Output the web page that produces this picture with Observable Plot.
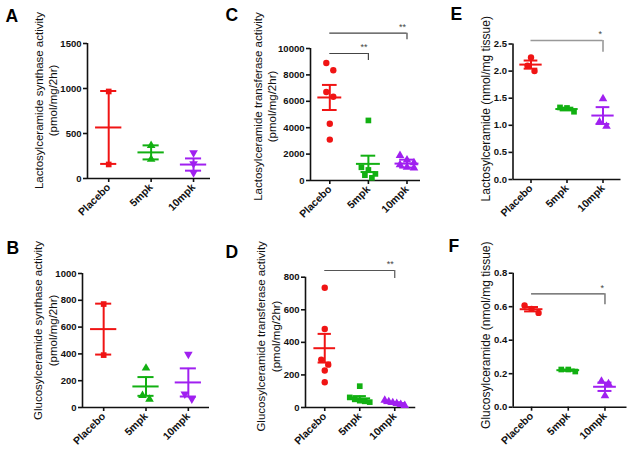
<!DOCTYPE html>
<html><head><meta charset="utf-8">
<script src="https://cdn.jsdelivr.net/npm/d3@7"></script>
<script src="https://cdn.jsdelivr.net/npm/@observablehq/plot@0.6"></script>
<style>
body{margin:0;background:#fff;}
#chart{position:relative;width:629px;height:453px;overflow:hidden;background:#fff;}
#chart > svg{position:absolute;}
</style></head><body><div id="chart"></div>
<script>
// ---------- data ----------
const groups = ["Placebo", "5mpk", "10mpk"];
const groupColors = ["#f01414", "#12b012", "#a020f0"];

// Panel A
const aTitle = "Lactosylceramide synthase activity\n(pmol/mg/2hr)";
const aTicks = [0, 500, 1000, 1500];
const aPlacebo = [967, 156];
const a5mpk = [367, 213];
const a10mpk = [285, 163, 65];
const aMean = [567, 290, 155];
const aSem = [405, 78, 68];

// Panel B
const bTitle = "Glucosylceramide synthase activity\n(pmol/mg/2hr)";
const bTicks = [0, 200, 400, 600, 800, 1000];
const bPlacebo = [772, 391];
const b5mpk = [294, 90, 62];
const b10mpk = [398, 100, 63];
const bMean = [585, 157, 187];
const bSem = [190, 70, 105];

// Panel C
const cTitle = "Lactosylceramide transferase activity\n(pmol/mg/2hr)";
const cTicks = [0, 2000, 4000, 6000, 8000, 10000];
const cPlacebo = [8900, 8350, 6700, 6350, 4300, 3100];
const c5mpk = [4550, 1000, 800, 500, 400, 200];
const c10mpk = [1900, 1550, 1350, 1200, 1000, 950];
const cMean = [6290, 1260, 1280];
const cSem = [950, 620, 300];
const cBrackets = [
  {from: "Placebo", to: "5mpk", level: 9620, drop: 9090, label: "**"},
  {from: "Placebo", to: "10mpk", level: 11160, drop: 10660, label: "**"}
];

// Panel D
const dTitle = "Glucosylceramide transferase activity\n(pmol/mg/2hr)";
const dTicks = [0, 200, 400, 600, 800];
const dPlacebo = [735, 482, 294, 263, 227, 155];
const d5mpk = [131, 62, 50, 42, 38, 33];
const d10mpk = [45, 36, 30, 24, 18, 12];
const dMean = [364, 56, 27];
const dSem = [88, 14, 5];
const dBrackets = [{from: "Placebo", to: "10mpk", level: 841, drop: 792, label: "**"}];

// Panel E
const eTitle = "Lactosylceramide (nmol/mg tissue)";
const eTicks = [0, 0.5, 1.0, 1.5, 2.0, 2.5];
const ePlacebo = [2.25, 2.10, 2.00];
const e5mpk = [1.33, 1.25, 1.32];
const e10mpk = [1.49, 0.98, 1.06];
const eMean = [2.12, 1.30, 1.18];
const eSem = [0.075, 0.025, 0.155];
const eBrackets = [{from: "Placebo", to: "10mpk", level: 2.565, drop: 2.35, label: "*"}];

// Panel F
const fTitle = "Glucosylceramide (nmol/mg tissue)";
const fTicks = [0, 0.2, 0.4, 0.6, 0.8];
const fPlacebo = [0.607, 0.563, 0.587];
const f5mpk = [0.225, 0.213, 0.225];
const f10mpk = [0.155, 0.140, 0.068];
const fMean = [0.585, 0.221, 0.122];
const fSem = [0.013, 0.004, 0.025];
const fBrackets = [{from: "Placebo", to: "10mpk", level: 0.677, drop: 0.611, label: "*"}];

// ---------- symbols ----------
const invTriangle = {draw(context, size) {
  const y = -Math.sqrt(size / (Math.sqrt(3) * 3));
  context.moveTo(0, -y * 2);
  context.lineTo(-Math.sqrt(3) * y, y);
  context.lineTo(Math.sqrt(3) * y, y);
  context.closePath();
}};
const symA = [d3.symbolSquare, d3.symbolTriangle, invTriangle];
const symC = [d3.symbolCircle, d3.symbolSquare, d3.symbolTriangle];
const intFmt = d3.format("d");
const decFmt = d3.format(".1f");

// ---------- layout ----------
const panels = [
  {letter: "A", left: 0, top: 0, width: 210, height: 226, mL: 87, mT: 43, mB: 48, mR: 0, xDomain: [-0.5, 2.4],
   values: [aPlacebo, a5mpk, a10mpk], mean: aMean, sem: aSem, ticks: aTicks, fmt: intFmt, symbols: symA,
   title: aTitle, tfs: 11.5, tdx: -42, tdy: -10.5, lx: 5, ly: 21.5, brackets: [], bracketColor: "#444", bw: 1.2},
  {letter: "B", left: 0, top: 226, width: 210, height: 227, mL: 82, mT: 47, mB: 46, mR: 1, xDomain: [-0.5, 2.5],
   values: [bPlacebo, b5mpk, b10mpk], mean: bMean, sem: bSem, ticks: bTicks, fmt: intFmt, symbols: symA,
   title: bTitle, tfs: 11.5, tdx: -37.5, tdy: -10, lx: 6, ly: 27, brackets: [], bracketColor: "#444", bw: 1.2},
  {letter: "C", left: 210, top: 0, width: 210, height: 226, mL: 100, mT: 48, mB: 46, mR: 0, xDomain: [-0.5, 2.35],
   values: [cPlacebo, c5mpk, c10mpk], mean: cMean, sem: cSem, ticks: cTicks, fmt: intFmt, symbols: symC,
   title: cTitle, tfs: 11.5, tdx: -46, tdy: -8, lx: 15, ly: 20, brackets: cBrackets, bracketColor: "#444", bw: 1.2},
  {letter: "D", left: 210, top: 226, width: 210, height: 227, mL: 95, mT: 50.7, mB: 46, mR: 4.75, xDomain: [-0.55, 2.6],
   values: [dPlacebo, d5mpk, d10mpk], mean: dMean, sem: dSem, ticks: dTicks, fmt: intFmt, symbols: symC,
   title: dTitle, tfs: 11.5, tdx: -37.5, tdy: -6, lx: 15, ly: 31.5, brackets: dBrackets, bracketColor: "#555", bw: 1.2},
  {letter: "E", left: 420, top: 0, width: 209, height: 226, mL: 92.5, mT: 43.5, mB: 47, mR: 8.5, xDomain: [-0.5, 2.5],
   values: [ePlacebo, e5mpk, e10mpk], mean: eMean, sem: eSem, ticks: eTicks, fmt: decFmt, symbols: symC,
   title: eTitle, tfs: 12, tdx: -27.5, tdy: -3, lx: 30, ly: 19.5, brackets: eBrackets, bracketColor: "#999", bw: 1.6},
  {letter: "F", left: 420, top: 226, width: 209, height: 227, mL: 92.7, mT: 46.7, mB: 46.3, mR: 2.5, xDomain: [-0.5, 2.6],
   values: [fPlacebo, f5mpk, f10mpk], mean: fMean, sem: fSem, ticks: fTicks, fmt: decFmt, symbols: symC,
   title: fTitle, tfs: 12, tdx: -27.7, tdy: -5, lx: 28, ly: 25, brackets: fBrackets, bracketColor: "#555", bw: 1.2}
];

function makePanel(p) {
  const yMax = p.ticks[p.ticks.length - 1];
  const yBot = p.height - p.mB;
  const ypx = d3.scaleLinear([0, yMax], [yBot, p.mT]);
  const spacing = (p.width - p.mL - p.mR) / (p.xDomain[1] - p.xDomain[0]);
  // column-scatter layout (spread overlapping points sideways)
  const pts = [];
  p.values.forEach((vals, gi) => {
    const sorted = [...vals].sort((a, b) => b - a);
    const rows = [];
    for (const v of sorted) {
      const py = ypx(v);
      const row = rows[rows.length - 1];
      if (row && Math.abs(py - row.py0) < 7.5) row.items.push(v);
      else rows.push({py0: py, items: [v]});
    }
    for (const row of rows) {
      const n = row.items.length;
      const step = n > 1 ? Math.min(7, 20 / (n - 1)) : 0;
      row.items.forEach((v, k) => pts.push({
        x: gi + ((k - (n - 1) / 2) * step) / spacing, v,
        sym: p.symbols[gi], color: groupColors[gi]
      }));
    }
  });
  const summ = p.mean.map((m, i) => ({i, m, s: p.sem[i], color: groupColors[i]}));
  const br = p.brackets.map(b => ({...b, a: groups.indexOf(b.from), b: groups.indexOf(b.to)}));

  const svg = Plot.plot({
    width: p.width, height: p.height,
    marginLeft: p.mL, marginTop: p.mT, marginBottom: p.mB, marginRight: p.mR,
    style: {fontFamily: "'Liberation Sans', Arial, sans-serif", fontSize: "10px", fontWeight: "bold",
            color: "#111", background: "transparent", overflow: "visible"},
    x: {type: "linear", domain: p.xDomain},
    y: {type: "linear", domain: [0, yMax]},
    marks: [
      Plot.ruleY([0], {stroke: "#111", strokeWidth: 1.6}),
      Plot.ruleX([p.xDomain[0]], {y1: 0, y2: yMax, stroke: "#111", strokeWidth: 1.6}),
      Plot.axisY(p.ticks, {tickSize: 4, tickPadding: 2, tickFormat: p.fmt, strokeWidth: 1.6, fontSize: 9.5, label: null}),
      Plot.axisX([0, 1, 2], {tickFormat: i => groups[i], tickRotate: -45, tickSize: 4, tickPadding: 3,
                              strokeWidth: 1.6, fontSize: 10.5, label: null}),
      Plot.dot(pts, {x: "x", y: "v", symbol: "sym", fill: "color", r: 3.2}),
      Plot.ruleX(summ, {x: "i", y1: d => d.m - d.s, y2: d => d.m + d.s, stroke: "color", strokeWidth: 2}),
      Plot.ruleY(summ, {y: "m", x1: d => d.i - 0.31, x2: d => d.i + 0.31, stroke: "color", strokeWidth: 2}),
      Plot.ruleY(summ, {y: d => d.m + d.s, x1: d => d.i - 0.19, x2: d => d.i + 0.19, stroke: "color", strokeWidth: 2}),
      Plot.ruleY(summ, {y: d => d.m - d.s, x1: d => d.i - 0.19, x2: d => d.i + 0.19, stroke: "color", strokeWidth: 2}),
      Plot.ruleY(br, {y: "level", x1: "a", x2: "b", stroke: p.bracketColor, strokeWidth: p.bw}),
      Plot.ruleX(br, {x: "b", y1: "level", y2: "drop", stroke: p.bracketColor, strokeWidth: p.bw}),
      Plot.text(br, {x: "b", y: "level", text: "label", textAnchor: "end", dx: -1, dy: -6,
                     fill: "#444", fontSize: 9, fontWeight: "normal"}),
      Plot.text([p.title], {frameAnchor: "left", text: d => d, rotate: -90, dx: p.tdx, dy: p.tdy,
                            textAnchor: "middle", lineAnchor: "middle",
                            fontSize: p.tfs, fontWeight: "normal", lineHeight: 1.25, fill: "#111"}),
      Plot.text([p.letter], {frameAnchor: "top-left", text: d => d, dx: p.lx - p.mL, dy: p.ly - p.mT,
                             textAnchor: "start", lineAnchor: "bottom", fontSize: 17.5, fontWeight: "bold", fill: "#000"})
    ]
  });
  svg.style.left = p.left + "px";
  svg.style.top = p.top + "px";
  return svg;
}

const chart = document.getElementById("chart");
for (const p of panels) chart.appendChild(makePanel(p));
</script>
</body></html>
